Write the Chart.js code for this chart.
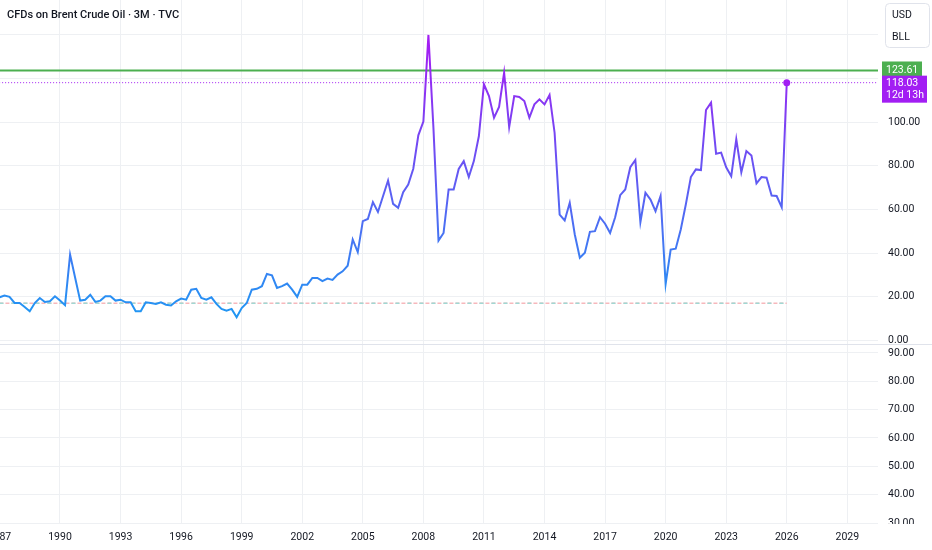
<!DOCTYPE html>
<html>
<head>
<meta charset="utf-8">
<title>CFDs on Brent Crude Oil · 3M · TVC</title>
<script src="https://cdn.jsdelivr.net/npm/chart.js@4.4.1/dist/chart.umd.min.js"></script>
<style>
  html, body { margin: 0; padding: 0; background: #fff; }
  #wrap { position: relative; width: 932px; height: 550px; }
</style>
</head>
<body>
<div id="wrap"><canvas id="brentChart"></canvas></div>
<script>
// Quarterly (3M) closes, first bar is 1987 Q1
const FIRST_YEAR = 1987;
const closes = [
  19.7, 20.5, 19.9, 17.1,     // 1987
  17.1, 15.3, 13.3, 17.1,     // 1988
  19.4, 17.6, 17.9, 20.2,     // 1989
  18.2, 16.1, 39.3, 28.7,     // 1990
  18.2, 18.6, 20.9, 17.6,     // 1991
  18.2, 20.2, 20.2, 18.2,     // 1992
  18.6, 17.4, 17.4, 13.3,     // 1993
  13.3, 17.4, 17.1, 16.7,     // 1994
  17.4, 16.3, 16.0, 17.9,     // 1995
  19.1, 18.6, 23.2, 23.6,     // 1996
  19.4, 18.6, 19.7, 16.7,     // 1997
  14.4, 13.6, 14.4, 10.6,     // 1998
  14.8, 17.1, 23.2, 23.6,     // 1999
  24.8, 30.4, 29.8, 24.0,     // 2000
  24.8, 26.0, 23.2, 19.9,     // 2001
  25.5, 25.5, 28.6, 28.6,     // 2002
  27.1, 28.3, 27.7, 30.1,     // 2003
  31.6, 34.2, 46.2, 40.4,     // 2004
  54.6, 55.6, 63.3, 58.8,     // 2005
  66.0, 73.2, 62.5, 60.7,     // 2006
  67.9, 71.4, 78.6, 93.9,     // 2007
  100.2, 139.9, 97.0, 45.7,   // 2008
  49.2, 69.1, 69.1, 78.5,     // 2009
  82.1, 74.8, 82.1, 93.6,     // 2010
  117.3, 111.9, 102.0, 106.9, // 2011
  122.6, 97.7, 111.9, 111.5,  // 2012
  109.6, 102.0, 108.1, 110.4, // 2013
  108.1, 112.4, 95.1, 57.6,   // 2014
  54.9, 63.0, 48.5, 37.8,     // 2015
  40.1, 49.7, 50.0, 56.4,     // 2016
  53.4, 49.2, 56.4, 66.5,     // 2017
  69.1, 79.3, 82.6, 54.1,     // 2018
  67.6, 64.5, 59.2, 66.1,     // 2019
  25.8, 41.6, 42.0, 50.8,     // 2020
  62.2, 74.8, 78.3, 78.0,     // 2021
  105.5, 108.9, 85.5, 86.0,   // 2022
  79.3, 75.2, 92.1, 77.0,     // 2023
  86.7, 84.7, 71.9, 74.8,     // 2024
  74.5, 66.3, 66.1, 61.0,     // 2025
  118.03                      // 2026 (current bar)
];

const xTickYears = [1987, 1990, 1993, 1996, 1999, 2002, 2005, 2008, 2011, 2014, 2017, 2020, 2023, 2026, 2029];
const priceTicks = [0, 20, 40, 60, 80, 100, 120, 140];
const lowerTicks = [30, 40, 50, 60, 70, 80, 90];

const highLevel = 123.61;     // green horizontal line
const lastClose = 118.03;     // current price line
const baseLevel = 17.0;       // dashed base line
const countdown = '12d 13h';
const titleText = 'CFDs on Brent Crude Oil · 3M · TVC';
const currencyLines = ['USD', 'BLL'];

const FONT = "Roboto, 'Liberation Sans', sans-serif";
const TEXT = '#131722';
const GRID = '#eef0f3';
const BLUE = '#2196f3';
const PURPLE = '#a21ef3';
const GREEN = '#4caf50';

const quarterX = closes.map((_, i) => FIRST_YEAR + i / 4);
const lastX = quarterX[quarterX.length - 1];

function lineGradient(context) {
    const chart = context.chart;
    const { ctx, chartArea, scales } = chart;
    if (!chartArea) return BLUE;
    const g = ctx.createLinearGradient(0, scales.y.getPixelForValue(12), 0, scales.y.getPixelForValue(135));
    g.addColorStop(0, BLUE);
    g.addColorStop(1, PURPLE);
    return g;
}

// Overlays: pane separator, title, currency box, price labels
const overlayPlugin = {
    id: 'tvOverlay',
    afterDraw(chart) {
        const { ctx, chartArea, scales, width } = chart;
        const y = scales.y;
        const y2 = scales.y2;
        ctx.save();

        ctx.strokeStyle = '#e0e3eb';
        ctx.lineWidth = 1;
        ctx.beginPath();
        const sep = Math.round(y.bottom) + 0.5;
        ctx.moveTo(0, sep);
        ctx.lineTo(width, sep);
        ctx.stroke();

        // lower pane clips its bottom tick label
        ctx.fillStyle = '#fff';
        ctx.fillRect(chartArea.right, y2.bottom, width - chartArea.right, 6);

        ctx.fillStyle = TEXT;
        ctx.textAlign = 'left';
        ctx.textBaseline = 'middle';
        ctx.font = `500 11px ${FONT}`;
        ctx.fillText(titleText, 7, 15);

        // currency / unit box
        const bx = chartArea.right + 7;
        ctx.fillStyle = '#fff';
        ctx.strokeStyle = '#e0e3eb';
        ctx.beginPath();
        ctx.roundRect(bx + 0.5, 3.5, 44, 44, 4);
        ctx.fill();
        ctx.stroke();
        ctx.fillStyle = TEXT;
        ctx.font = `10.5px ${FONT}`;
        ctx.fillText(currencyLines[0], bx + 7, 15);
        ctx.fillText(currencyLines[1], bx + 7, 37);

        // high level label
        const gy = y.getPixelForValue(highLevel);
        ctx.fillStyle = GREEN;
        ctx.fillRect(chartArea.right + 4, gy - 9, 40, 17);
        ctx.fillStyle = '#fff';
        ctx.font = `10.5px ${FONT}`;
        ctx.fillText(highLevel.toFixed(2), chartArea.right + 8, gy);

        // last price + countdown label
        const py = y.getPixelForValue(lastClose);
        ctx.fillStyle = PURPLE;
        ctx.fillRect(chartArea.right + 4, py - 7, 45, 27);
        ctx.fillStyle = '#fff';
        ctx.fillText(lastClose.toFixed(2), chartArea.right + 8, py + 1);
        ctx.fillText(countdown, chartArea.right + 8, py + 13);

        ctx.restore();
    }
};

const tickFont = { family: FONT, size: 10.5 };

function yAxis(stackWeight, min, max, values) {
    return {
        position: 'right',
        stack: 'panes',
        stackWeight: stackWeight,
        min: min,
        max: max,
        grid: { color: GRID, drawTicks: false },
        border: { display: false },
        ticks: {
            font: tickFont,
            color: TEXT,
            crossAlign: 'near',
            padding: 10,
            autoSkip: false,
            callback: (v) => v.toFixed(2)
        },
        afterBuildTicks: (s) => { s.ticks = values.map((v) => ({ value: v })); },
        afterFit: (s) => { s.width = 54; s.paddingTop = 0; s.paddingBottom = 0; }
    };
}

new Chart(document.getElementById('brentChart'), {
    type: 'line',
    data: {
        datasets: [
            {
                data: closes.map((v, i) => ({ x: quarterX[i], y: v })),
                yAxisID: 'y',
                borderColor: lineGradient,
                borderWidth: 2,
                tension: 0,
                pointRadius: (c) => c.dataIndex === closes.length - 1 ? 3.5 : 0,
                pointBackgroundColor: PURPLE,
                pointBorderWidth: 0
            },
            {
                data: [{ x: 1980, y: highLevel }, { x: 2040, y: highLevel }],
                yAxisID: 'y',
                borderColor: GREEN,
                borderWidth: 2,
                pointRadius: 0
            },
            {
                data: [{ x: 1980, y: lastClose }, { x: 2040, y: lastClose }],
                yAxisID: 'y',
                borderColor: PURPLE,
                borderWidth: 1,
                borderDash: [1, 2],
                pointRadius: 0
            },
            {
                // teal dashes sit on every other pink dash
                data: [{ x: FIRST_YEAR, y: baseLevel }, { x: lastX, y: baseLevel }],
                yAxisID: 'y',
                borderColor: '#9fd9d4',
                borderWidth: 1.5,
                borderDash: [4, 8],
                pointRadius: 0
            },
            {
                data: [{ x: FIRST_YEAR, y: baseLevel }, { x: lastX, y: baseLevel }],
                yAxisID: 'y',
                borderColor: '#f7b8bc',
                borderWidth: 1.5,
                borderDash: [4, 2],
                pointRadius: 0
            }
        ]
    },
    options: {
        responsive: true,
        maintainAspectRatio: false,
        animation: false,
        layout: { padding: 0, autoPadding: false },
        plugins: {
            legend: { display: false },
            tooltip: { enabled: false }
        },
        scales: {
            x: {
                type: 'linear',
                position: 'bottom',
                min: 1987.028,
                max: 2030.52,
                grid: { color: GRID, drawTicks: false },
                border: { display: false },
                ticks: {
                    font: tickFont,
                    color: TEXT,
                    padding: 7,
                    maxRotation: 0,
                    autoSkip: false,
                    callback: (v) => String(v)
                },
                afterBuildTicks: (s) => { s.ticks = xTickYears.map((v) => ({ value: v })); },
                afterFit: (s) => { s.height = 26; s.paddingLeft = 0; s.paddingRight = 0; }
            },
            y: yAxis(343.5, -1.9, 155.9, priceTicks),
            y2: yAxis(179, 29.65, 93, lowerTicks)
        }
    },
    plugins: [overlayPlugin]
});
</script>
</body>
</html>
